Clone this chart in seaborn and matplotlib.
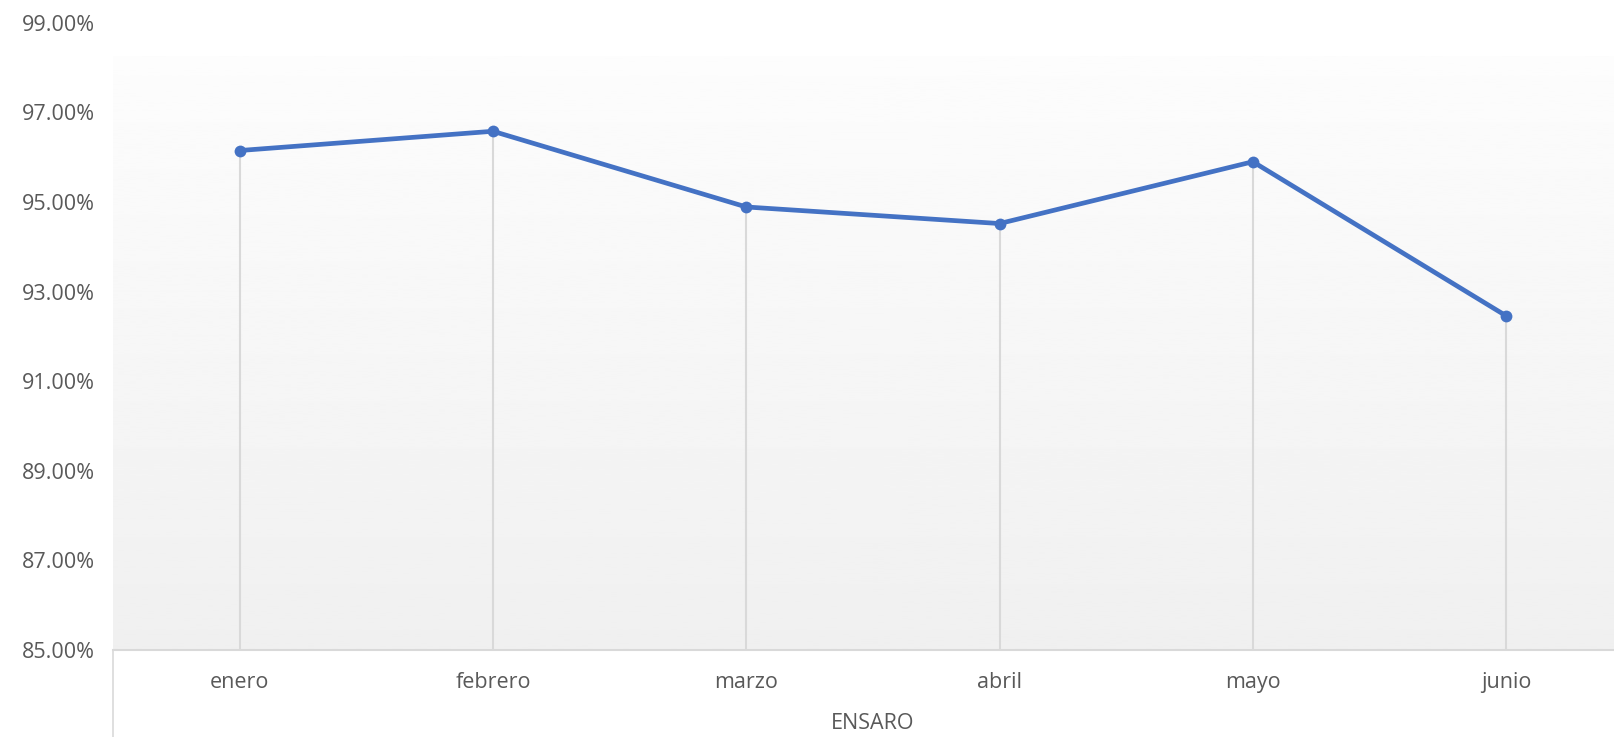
import matplotlib
matplotlib.use("Agg")
import matplotlib.pyplot as plt
import numpy as np
import pandas as pd
import seaborn as sns
from matplotlib.lines import Line2D
from matplotlib.ticker import FuncFormatter

meses = ["enero", "febrero", "marzo", "abril", "mayo", "junio"]
porcentajes = [96.15, 96.58, 94.89, 94.52, 95.90, 92.46]
y_ticks = [85, 87, 89, 91, 93, 95, 97, 99]

df = pd.DataFrame({"mes": meses, "valor": porcentajes})
df["pos"] = np.arange(len(df))

sns.set_style("white")
plt.rcParams["font.family"] = ["Open Sans", "DejaVu Sans"]

fig = plt.figure(figsize=(16.15, 7.37), dpi=100)
ax = fig.add_axes([0.070, 0.118, 0.941, 0.851])
ax.set_facecolor("none")

# fondo degradado del área de trazado (de blanco arriba a gris claro abajo)
grad = np.linspace(0.94, 0.99, 256).reshape(-1, 1)
top_frac = (650 - 57) / (650 - 23)
ax.imshow(grad, cmap="gray", vmin=0, vmax=1, aspect="auto", origin="lower",
          extent=[0, 1, 0, top_frac], transform=ax.transAxes, zorder=0)

ax.vlines(df["pos"], 85, df["valor"], color="#d9d9d9", linewidth=1.5, zorder=1)
sns.lineplot(data=df, x="pos", y="valor", ax=ax, color="#4472c4", linewidth=3.4,
             marker="o", markersize=8.5, markeredgewidth=0, zorder=3)

ax.set_xlim(-0.5, len(meses) - 0.5)
ax.set_ylim(85, 99)
ax.set_yticks(y_ticks)
ax.yaxis.set_major_formatter(FuncFormatter(lambda v, _: f"{v:.2f}%"))
ax.set_xticks(df["pos"])
ax.set_xticklabels(meses)
ax.tick_params(axis="both", length=0, labelsize=15.5, labelcolor="#595959")
ax.tick_params(axis="y", pad=13)
ax.tick_params(axis="x", pad=16)
ax.set_xlabel("ENSARO", fontsize=15.5, color="#595959", labelpad=14)
ax.set_ylabel("")

for side in ["top", "right", "left"]:
    ax.spines[side].set_visible(False)
ax.spines["bottom"].set_color("#d9d9d9")
ax.spines["bottom"].set_linewidth(1.5)

# línea vertical del eje de categorías
x0 = 0.070
fig.add_artist(Line2D([x0, x0], [0, 0.118], transform=fig.transFigure,
                      color="#d9d9d9", linewidth=1.2))

fig.savefig("out.png", dpi=100)
